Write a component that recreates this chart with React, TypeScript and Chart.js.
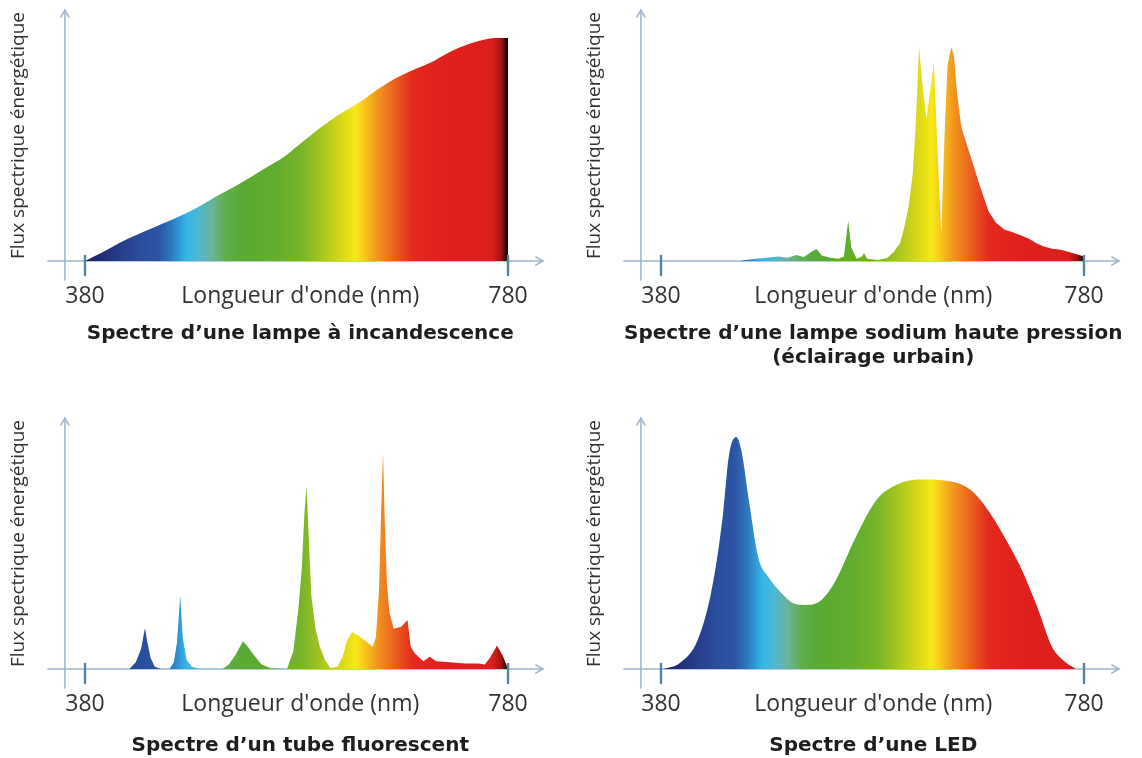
import React, { useEffect, useRef } from 'react';
import { Chart, registerables } from 'chart.js';

Chart.register(...registerables);

// ---------- texts ----------
const Y_LABEL = 'Flux spectrique énergétique';
const X_LABEL = "Longueur d'onde (nm)";
const X_TICKS = [380, 780];
const TITLE_INC = ['Spectre d’une lampe à incandescence'];
const TITLE_NA = ['Spectre d’une lampe sodium haute pression', '(éclairage urbain)'];
const TITLE_FL = ['Spectre d’un tube fluorescent'];
const TITLE_LED = ['Spectre d’une LED'];

// ---------- spectrum colour stops (wavelength nm -> colour) ----------
const SPECTRUM_WL = [380, 395, 410, 430, 450, 462, 476, 488, 500, 512, 530, 560, 585, 605, 622, 636, 648, 660, 675, 690, 720, 765, 774, 780];
const SPECTRUM_COLORS = [
  '#1f1f63', '#232b73', '#263a88', '#2a4b9b', '#2c55a4', '#2f78c0', '#35b6e8', '#4fb7cf',
  '#6ab39a', '#5fae4e', '#58aa32', '#62ad2e', '#78b42a', '#a9c71f', '#d8d817', '#f7e816',
  '#f6b81c', '#f08a1f', '#ea5a1f', '#e3291d', '#e0201c', '#dc1f1c', '#a01414', '#000000',
];

// ---------- series (wavelength nm, relative flux) ----------
const INC_WL = [380, 396, 412, 428, 445, 460, 476, 490, 503, 520, 537, 552, 568, 582, 595, 612, 625, 639, 657, 676, 692, 707, 724, 741, 755, 768, 780];
const INC_VAL = [0, 3.8, 8, 11.5, 15, 18, 21.5, 25, 28.7, 33, 37.7, 42, 46.6, 52, 57, 63, 67, 71, 77, 82.5, 86, 89, 93.5, 97, 99, 100, 100];

const NA_WL = [455, 460, 470, 480, 491, 500, 508, 515, 522, 527, 532, 540, 548, 553, 557, 560, 565, 570, 572, 575, 585, 594, 600, 606, 610, 614, 618, 621, 624, 627, 631, 634.5, 638, 641.5, 645, 648, 651, 654.5, 657, 660, 664, 670, 676, 682, 690, 697, 705, 712, 720, 728, 735, 742, 750, 758, 766, 773, 780];
const NA_VAL = [0, 0.5, 1, 1.5, 2, 1.5, 2.7, 1.8, 4, 5.4, 2.5, 1.5, 1, 2, 18, 6, 1, 2, 3.5, 1, 0.5, 1.3, 4, 8, 15, 24, 39, 62, 96, 80, 64, 76, 89, 50, 12, 55, 88, 96, 92, 75, 60, 51, 42, 33, 22, 17, 14, 13, 11.5, 10, 8, 6.5, 5.5, 5, 4, 3, 2];

const FL_WL = [422, 428, 433, 436.7, 439, 442, 446, 452, 460, 464, 467, 470, 472.5, 476, 481, 489, 510, 516, 522, 529.4, 534, 540, 547, 556, 571, 577, 582, 585, 587.5, 589.5, 591.5, 594, 598, 602, 607, 612, 619, 624, 628, 632.5, 640, 647, 652, 655, 658, 660, 661.8, 663.5, 665.5, 668, 672, 679, 685, 688, 692, 700, 706, 712, 725, 740, 752, 758, 763, 769.6, 775, 780];
const FL_VAL = [0, 3, 9, 18.4, 12, 5, 1, 0, 0, 3, 12, 33, 14, 4, 1, 0, 0, 2, 6, 12.5, 10, 6, 2, 0.3, 0, 8, 28, 45, 70, 82, 60, 33, 18, 10, 4, 0.5, 1, 6, 13, 16.6, 14.5, 12, 10, 14, 35, 70, 97, 65, 38, 25, 18, 19, 22, 10, 7, 3.5, 5.5, 3.5, 3, 2.5, 2.5, 2, 5, 10.5, 6, 0];

const LED_WL = [382, 397.5, 414.7, 428.5, 439, 444, 451, 456, 463, 472, 482, 494, 508, 518, 532, 545.5, 563, 584, 604.6, 625, 656, 673.6, 691, 708, 721.7, 735.6, 749.7, 760, 772];
const LED_VAL = [0, 2.6, 13, 37, 71, 95, 104, 98, 76, 50, 41, 34, 29, 28.7, 31, 40, 58, 76, 83, 85, 84, 80, 70, 56.5, 44, 28, 10, 4, 0];

// ---------- styling ----------
const FONT = "'Open Sans', 'DejaVu Sans', sans-serif";
const TITLE_FONT = "'DejaVu Sans', 'Open Sans', sans-serif";
const TEXT_COLOR = '#333333';
const AXIS_COLOR = '#9fb9d0';
const TICK_COLOR = '#5681ab';
const AXIS_X_START = 345;
const AXIS_X_END = 813;
const AXIS_Y_AT = 361;
const AXIS_Y_BOTTOM = -8.5;
const TICK_TOP = 2.7;
const TICK_BOTTOM = -6.7;
const Y_MAX = 112.56;

const axesPlugin = {
  id: 'spectrumAxes',
  beforeDatasetsDraw(chart: any) {
    const { ctx, scales } = chart;
    const x = scales.x;
    const y = scales.y;
    const y0 = y.getPixelForValue(0);
    const xs = x.getPixelForValue(AXIS_X_START);
    const xe = x.getPixelForValue(AXIS_X_END);
    const yx = x.getPixelForValue(AXIS_Y_AT);
    const yb = y.getPixelForValue(AXIS_Y_BOTTOM);
    const yt = y.getPixelForValue(Y_MAX);
    ctx.save();
    ctx.strokeStyle = AXIS_COLOR;
    ctx.lineWidth = 1.6;
    ctx.lineCap = 'round';
    ctx.beginPath();
    ctx.moveTo(xs, y0);
    ctx.lineTo(xe, y0);
    ctx.moveTo(yx, yb);
    ctx.lineTo(yx, yt);
    ctx.stroke();
    ctx.beginPath();
    ctx.moveTo(xe - 7, y0 - 4);
    ctx.lineTo(xe, y0);
    ctx.lineTo(xe - 7, y0 + 4);
    ctx.moveTo(yx - 4, yt + 7);
    ctx.lineTo(yx, yt);
    ctx.lineTo(yx + 4, yt + 7);
    ctx.stroke();
    ctx.restore();
  },
  afterDatasetsDraw(chart: any) {
    const { ctx, scales } = chart;
    const x = scales.x;
    const y = scales.y;
    ctx.save();
    ctx.strokeStyle = TICK_COLOR;
    ctx.lineWidth = 2.4;
    X_TICKS.forEach((v) => {
      const px = x.getPixelForValue(v);
      ctx.beginPath();
      ctx.moveTo(px, y.getPixelForValue(TICK_TOP));
      ctx.lineTo(px, y.getPixelForValue(TICK_BOTTOM));
      ctx.stroke();
    });
    ctx.restore();
  },
};

function spectrumFill(context: any) {
  const chart = context.chart;
  const xs = chart.scales && chart.scales.x;
  if (!chart.chartArea || !xs) return 'rgba(0,0,0,0)';
  const x0 = xs.getPixelForValue(380);
  const x1 = xs.getPixelForValue(780);
  const g = chart.ctx.createLinearGradient(x0, 0, x1, 0);
  SPECTRUM_WL.forEach((w, i) => g.addColorStop((w - 380) / 400, SPECTRUM_COLORS[i]));
  return g;
}

type Props = {
  left: number;
  top: number;
  width: number;
  height: number;
  wl: number[];
  val: number[];
  title: string[];
  smooth: boolean;
  titlePadTop: number;
  padBottom: number;
};

function SpectrumChart(p: Props) {
  const ref = useRef<HTMLCanvasElement | null>(null);
  useEffect(() => {
    if (!ref.current) return;
    const xMin = 380 - (85 - 28.5) / 1.0575;
    const xMax = 780 + (p.width - 508) / 1.0575;
    const chart = new Chart(ref.current, {
      type: 'line',
      data: {
        datasets: [
          {
            data: p.wl.map((w, i) => ({ x: w, y: p.val[i] })),
            fill: 'origin',
            backgroundColor: spectrumFill as any,
            borderWidth: 0,
            pointRadius: 0,
            tension: p.smooth ? 0.4 : 0,
            cubicInterpolationMode: p.smooth ? 'monotone' : 'default',
          } as any,
        ],
      },
      options: {
        animation: false,
        responsive: false,
        maintainAspectRatio: false,
        events: [],
        layout: { padding: { left: 9.5, right: 0, top: 10, bottom: p.padBottom } },
        plugins: {
          legend: { display: false },
          tooltip: { enabled: false },
          title: {
            display: true,
            position: 'bottom',
            text: p.title,
            fullSize: false,
            color: '#1e1e1e',
            font: { family: TITLE_FONT, size: 20, weight: 'bold', lineHeight: 1.2 },
            padding: { top: p.titlePadTop, bottom: 0 },
          },
        },
        scales: {
          x: {
            type: 'linear',
            min: xMin,
            max: xMax,
            afterBuildTicks: (axis: any) => {
              axis.ticks = X_TICKS.map((v) => ({ value: v }));
            },
            ticks: {
              autoSkip: false,
              maxRotation: 0,
              padding: 21.2,
              color: TEXT_COLOR,
              font: { family: FONT, size: 23, lineHeight: 1.2 },
              callback: (v: any) => String(v),
            },
            grid: { display: false, drawTicks: false },
            border: { display: false },
            title: {
              display: true,
              text: X_LABEL,
              color: TEXT_COLOR,
              font: { family: FONT, size: 23, lineHeight: 1.2 },
              padding: { top: -48.8, bottom: 0 },
            },
          },
          y: {
            type: 'linear',
            min: 0,
            max: Y_MAX,
            ticks: { display: false },
            grid: { display: false, drawTicks: false },
            border: { display: false },
            title: {
              display: true,
              text: Y_LABEL,
              color: TEXT_COLOR,
              font: { family: FONT, size: 19, lineHeight: 1 },
              padding: { top: 0, bottom: 0 },
            },
          },
        },
      } as any,
      plugins: [axesPlugin],
    });
    return () => chart.destroy();
  }, []);
  return (
    <canvas
      ref={ref}
      width={p.width}
      height={p.height}
      style={{ position: 'absolute', left: p.left, top: p.top, width: p.width, height: p.height }}
    />
  );
}

export default function App() {
  return (
    <div style={{ position: 'absolute', left: 0, top: 0, width: 1142, height: 758, background: '#ffffff', overflow: 'hidden' }}>
      <SpectrumChart left={0} top={0} width={572} height={400} wl={INC_WL} val={INC_VAL} title={TITLE_INC} smooth={true} titlePadTop={11.8} padBottom={54.4} />
      <SpectrumChart left={576} top={0} width={566} height={400} wl={NA_WL} val={NA_VAL} title={TITLE_NA} smooth={false} titlePadTop={11.8} padBottom={30.4} />
      <SpectrumChart left={0} top={408} width={572} height={350} wl={FL_WL} val={FL_VAL} title={TITLE_FL} smooth={false} titlePadTop={16} padBottom={0.2} />
      <SpectrumChart left={576} top={408} width={566} height={350} wl={LED_WL} val={LED_VAL} title={TITLE_LED} smooth={true} titlePadTop={16} padBottom={0.2} />
    </div>
  );
}
